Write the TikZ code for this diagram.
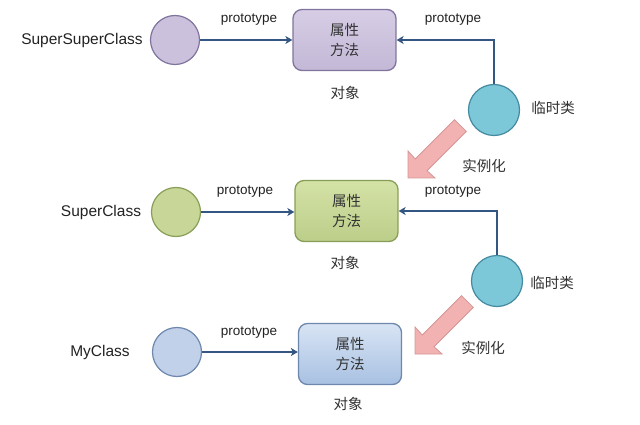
\documentclass[tikz,border=0pt]{standalone}
\usepackage{fontspec}
\setmainfont{Liberation Sans}
\newfontfamily\cjk{Noto Sans CJK SC}
\usetikzlibrary{arrows.meta}
\definecolor{purfill}{RGB}{204,193,221}
\definecolor{purtop}{RGB}{214,205,229}
\definecolor{purbot}{RGB}{195,184,214}
\definecolor{purline}{RGB}{128,116,158}
\definecolor{grnfill}{RGB}{200,215,152}
\definecolor{grntop}{RGB}{212,226,166}
\definecolor{grnbot}{RGB}{188,206,138}
\definecolor{grnline}{RGB}{136,158,88}
\definecolor{blufill}{RGB}{192,209,233}
\definecolor{blutop}{RGB}{216,228,244}
\definecolor{blubot}{RGB}{168,193,226}
\definecolor{bluline}{RGB}{110,135,172}
\definecolor{tealfill}{RGB}{124,200,216}
\definecolor{tealline}{RGB}{68,138,160}
\definecolor{linkc}{RGB}{52,86,130}
\definecolor{pinkfill}{RGB}{242,178,178}
\definecolor{pinkline}{RGB}{214,150,150}
\definecolor{txt}{RGB}{34,34,34}
\definecolor{cjktxt}{RGB}{50,50,50}
\tikzset{
  cls/.style={circle, inner sep=0pt, minimum size=49pt, line width=1.2pt},
  tmpcls/.style={circle, inner sep=0pt, minimum size=51pt, line width=1.2pt, draw=tealline, fill=tealfill},
  obj/.style={rounded corners=9pt, minimum width=103pt, minimum height=61pt, line width=1.3pt,
    inner sep=0pt, align=center, text=cjktxt, font=\cjk\fontsize{14.5}{20}\selectfont},
  namelbl/.style={text=txt, font=\fontsize{15.5}{18}\selectfont},
  protolbl/.style={text=txt, font=\fontsize{13.5}{16}\selectfont},
  cjklbl/.style={text=cjktxt, font=\cjk\fontsize{14.5}{17}\selectfont},
  link/.style={draw=linkc, line width=1.5pt, -{Stealth[length=7pt,width=8pt,inset=2pt]}},
  pinkarrow/.style={fill=pinkfill, draw=pinkline, line width=0.8pt, line join=miter}
}
\begin{document}
\begin{tikzpicture}[x=1pt,y=-1pt]
\useasboundingbox (0,0) rectangle (640,425);

% row 1
\node[cls, draw=purline, fill=purfill] (c1) at (175,40) {};
\node[namelbl] (n1) at (82,40) {SuperSuperClass};
\node[obj, draw=purline, top color=purtop, bottom color=purbot] (o1) at (344.5,40) {属性\\方法};
\node[cjklbl] (d1) at (345,93) {对象};
\node[protolbl] (p1l) at (249,20) {prototype};
\node[protolbl] (p1r) at (453,20) {prototype};
\node[tmpcls] (t1) at (494,110) {};
\node[cjklbl] (l1) at (553,108) {临时类};
\node[cjklbl] (s1) at (484,166) {实例化};

% row 2
\node[cls, draw=grnline, fill=grnfill] (c2) at (176,212) {};
\node[namelbl] (n2) at (101,212) {SuperClass};
\node[obj, draw=grnline, top color=grntop, bottom color=grnbot] (o2) at (346.5,211) {属性\\方法};
\node[cjklbl] (d2) at (345,263) {对象};
\node[protolbl] (p2l) at (245,192) {prototype};
\node[protolbl] (p2r) at (453,192) {prototype};
\node[tmpcls] (t2) at (497,281) {};
\node[cjklbl] (l2) at (552,283) {临时类};
\node[cjklbl] (s2) at (483,348) {实例化};

% row 3
\node[cls, draw=bluline, fill=blufill] (c3) at (177,352) {};
\node[namelbl] (n3) at (100,352) {MyClass};
\node[obj, draw=bluline, top color=blutop, bottom color=blubot] (o3) at (350,354) {属性\\方法};
\node[cjklbl] (d3) at (348,404) {对象};
\node[protolbl] (p3l) at (249,333) {prototype};

% connectors
\draw[link] (c1.east) -- (c1.east -| o1.west);
\draw[link] (t1.north) |- (o1.east);
\draw[link] (c2.east) -- (c2.east -| o2.west);
\draw[link] (t2.north) |- (o2.east);
\draw[link] (c3.east) -- (c3.east -| o3.west);

% instantiation arrows
\begin{scope}[shift={(408,178)}]
  \draw[pinkarrow] (0,0) -- (27,0) -- (19,-7.3) -- (58.3,-46.6) -- (46.6,-58.3) -- (7.3,-19) -- (0,-27) -- cycle;
\end{scope}
\begin{scope}[shift={(415,354)}]
  \draw[pinkarrow] (0,0) -- (27,0) -- (19,-7.3) -- (58.3,-46.6) -- (46.6,-58.3) -- (7.3,-19) -- (0,-27) -- cycle;
\end{scope}
\end{tikzpicture}
\end{document}
